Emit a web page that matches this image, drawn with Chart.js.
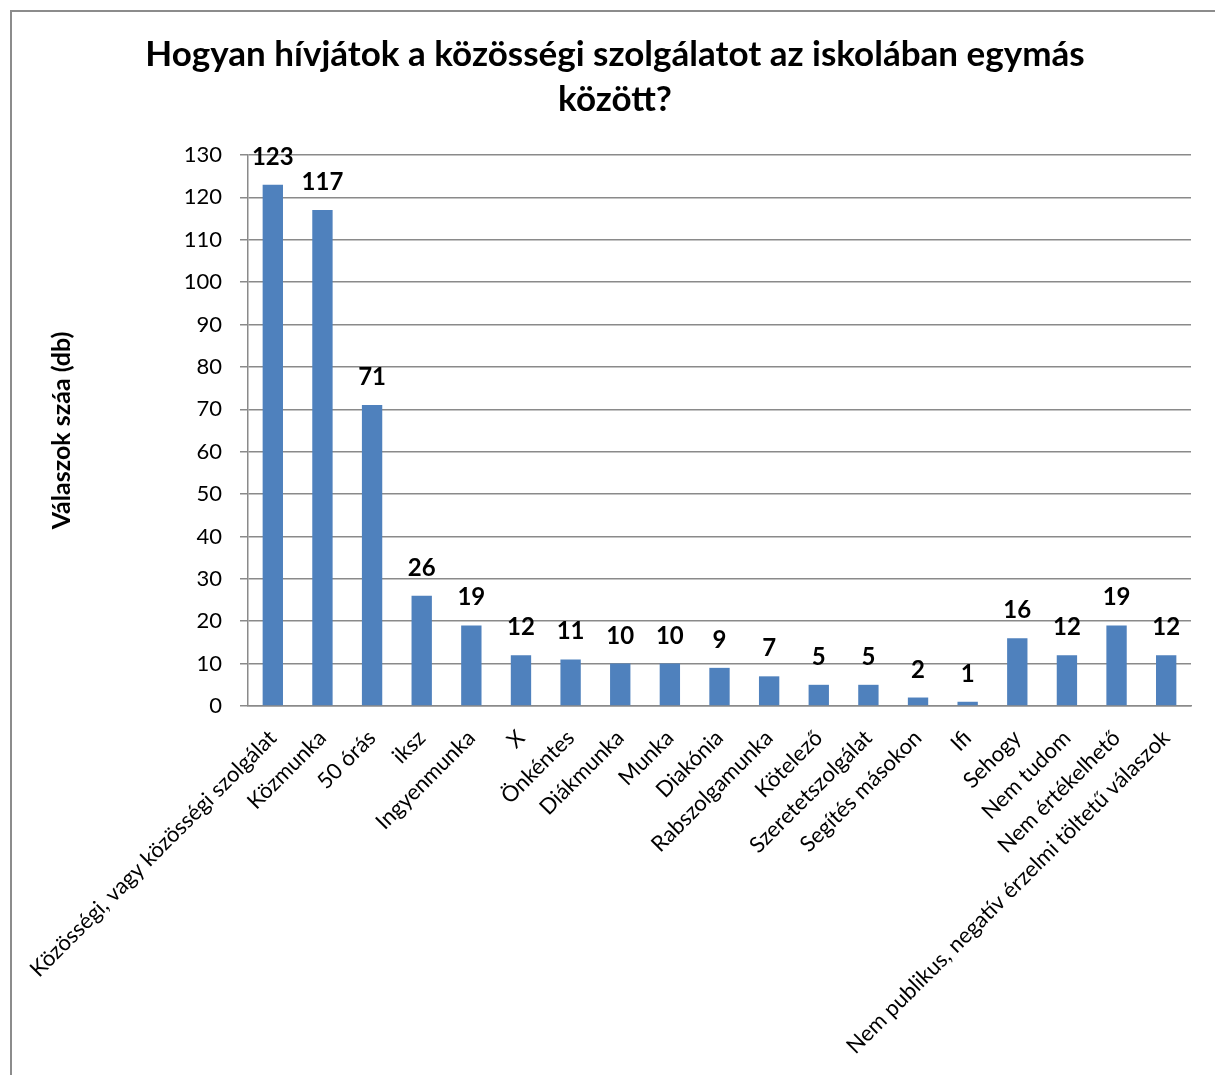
<!DOCTYPE html>
<html lang="hu">
<head>
<meta charset="utf-8">
<title>Hogyan hívjátok a közösségi szolgálatot az iskolában egymás között?</title>
<script src="https://cdn.jsdelivr.net/npm/chart.js@4/dist/chart.umd.min.js"></script>
<style>
  html, body { margin: 0; padding: 0; background: #fff; overflow: hidden; }
  #wrap { position: relative; width: 1215px; height: 1075px; }
</style>
</head>
<body>
<div id="wrap"><canvas id="chart" width="1215" height="1075"></canvas></div>
<script>
// Válaszkategóriák és darabszámok
const categories = [
  "Közösségi, vagy közösségi szolgálat",
  "Közmunka",
  "50 órás",
  "iksz",
  "Ingyenmunka",
  "X",
  "Önkéntes",
  "Diákmunka",
  "Munka",
  "Diakónia",
  "Rabszolgamunka",
  "Kötelező",
  "Szeretetszolgálat",
  "Segítés másokon",
  "Ifi",
  "Sehogy",
  "Nem tudom",
  "Nem értékelhető",
  "Nem publikus, negatív érzelmi töltetű válaszok"
];
const answerCounts = [123, 117, 71, 26, 19, 12, 11, 10, 10, 9, 7, 5, 5, 2, 1, 16, 12, 19, 12];

const titleLines = ["Hogyan hívjátok a közösségi szolgálatot az iskolában egymás", "között?"];
const yAxisTitle = "Válaszok száa (db)";
const yMin = 0, yMax = 130, yStep = 10;

const FONT = "Lato, 'Open Sans', sans-serif";
const BAR_COLOR = "#4f81bd";
const GRID_COLOR = "#8a8a8a";

// Plot area edges on the canvas
const PLOT = { left: 248, right: 1191, top: 155, bottom: 706 };
const CANVAS_W = 1215, CANVAS_H = 1075;

// Outer frame and two-line heading
const framePlugin = {
  id: "frame",
  beforeDraw(chart) {
    const ctx = chart.ctx;
    ctx.save();
    ctx.fillStyle = "#fff";
    ctx.fillRect(0, 0, chart.width, chart.height);
    ctx.strokeStyle = "#8c8c8c";
    ctx.lineWidth = 2;
    ctx.strokeRect(11, 11, 1215, 1100);
    ctx.restore();
  },
  afterDraw(chart) {
    const ctx = chart.ctx;
    ctx.save();
    ctx.fillStyle = "#000";
    ctx.font = "bold 35px " + FONT;
    ctx.textAlign = "center";
    ctx.textBaseline = "alphabetic";
    ctx.fillText(titleLines[0], 615, 66);
    ctx.fillText(titleLines[1], 615, 111);
    ctx.restore();
  }
};

// Value labels above each bar
const valueLabelPlugin = {
  id: "valueLabels",
  afterDatasetsDraw(chart) {
    const ctx = chart.ctx;
    const meta = chart.getDatasetMeta(0);
    const data = chart.data.datasets[0].data;
    ctx.save();
    ctx.fillStyle = "#000";
    ctx.font = "bold 24px " + FONT;
    ctx.textAlign = "center";
    ctx.textBaseline = "alphabetic";
    meta.data.forEach((bar, i) => {
      ctx.fillText(String(data[i]), bar.x, bar.y - 20);
    });
    ctx.restore();
  }
};

new Chart(document.getElementById("chart"), {
  type: "bar",
  data: {
    labels: categories,
    datasets: [{
      data: answerCounts,
      backgroundColor: BAR_COLOR,
      borderWidth: 0,
      barPercentage: 0.41,
      categoryPercentage: 1.0
    }]
  },
  options: {
    responsive: false,
    animation: false,
    devicePixelRatio: 1,
    layout: {
      padding: { top: PLOT.top, right: CANVAS_W - PLOT.right, bottom: 0, left: 0 }
    },
    plugins: {
      legend: { display: false },
      title: { display: false },
      tooltip: { enabled: false }
    },
    scales: {
      x: {
        offset: true,
        grid: { display: false, drawTicks: false },
        border: { display: true, color: GRID_COLOR, width: 1.5 },
        ticks: {
          autoSkip: false,
          minRotation: 45,
          maxRotation: 45,
          padding: 19,
          color: "#000",
          font: { family: FONT, size: 22 }
        },
        afterFit(scale) { scale.height = CANVAS_H - PLOT.bottom; }
      },
      y: {
        min: yMin,
        max: yMax,
        ticks: {
          stepSize: yStep,
          padding: 18,
          color: "#000",
          font: { family: FONT, size: 22 }
        },
        grid: { color: GRID_COLOR, lineWidth: 1.5, tickLength: 8, drawTicks: true },
        border: { display: true, color: GRID_COLOR, width: 1.5 },
        title: {
          display: true,
          text: yAxisTitle,
          color: "#000",
          font: { family: FONT, size: 25, weight: "bold" },
          padding: { top: 47, bottom: 0 }
        },
        afterFit(scale) { scale.width = PLOT.left; }
      }
    }
  },
  plugins: [framePlugin, valueLabelPlugin]
});
</script>
</body>
</html>
